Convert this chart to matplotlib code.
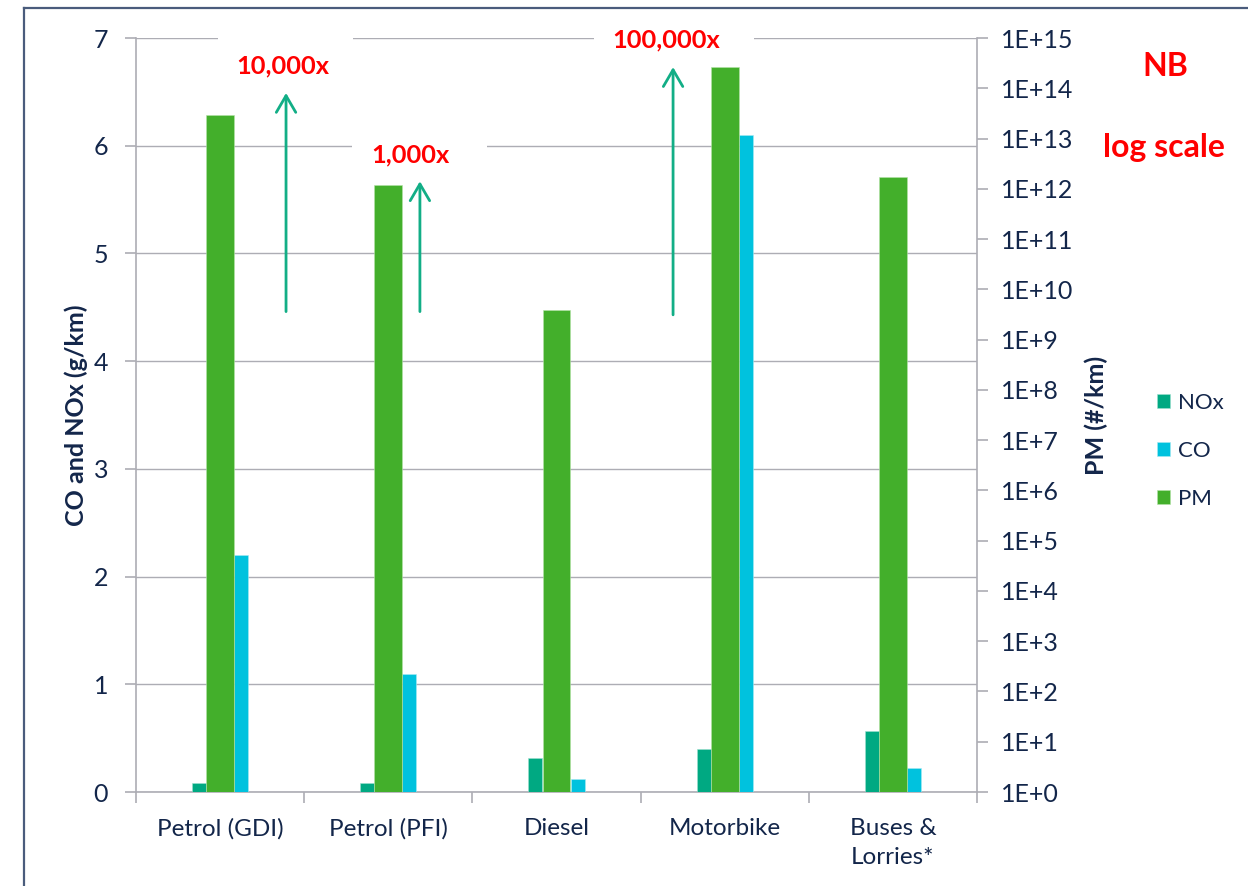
import numpy as np
import matplotlib
matplotlib.use("Agg")
import matplotlib.pyplot as plt
from matplotlib.patches import Rectangle
from matplotlib.lines import Line2D

plt.rcParams['font.family'] = ['Lato', 'DejaVu Sans']

# ---- data -------------------------------------------------------------
categories = ["Petrol (GDI)", "Petrol (PFI)", "Diesel", "Motorbike", "Buses &\nLorries*"]
nox_g_km = [0.08, 0.08, 0.32, 0.40, 0.57]          # left axis
co_g_km = [2.20, 1.10, 0.12, 6.10, 0.22]           # left axis
pm_num_km = [2.9e13, 1.2e12, 3.9e9, 2.7e14, 1.7e12]  # right axis (log)

left_ticks = list(range(0, 8))
right_exponents = list(range(0, 16))

factor_labels = ["10,000x", "1,000x", "100,000x"]

# ---- styling ------------------------------------------------------------
NAVY = "#13264A"
GRID = "#ADADB4"
C_NOX = "#00A982"
C_CO = "#00C2DE"
C_PM = "#43AF2B"
RED = "#FF0000"
ARROW = "#12AE86"

fig = plt.figure(figsize=(12.48, 8.86), dpi=100)
fig.patch.set_facecolor("white")

# slide frame (top and left edges visible)
fig.add_artist(Line2D([24 / 1248, 24 / 1248], [0, 1 - 8 / 886], transform=fig.transFigure,
                      color="#4A5C7C", lw=1.6))
fig.add_artist(Line2D([24 / 1248, 1], [1 - 8 / 886, 1 - 8 / 886], transform=fig.transFigure,
                      color="#4A5C7C", lw=1.6))

ax = fig.add_axes([136 / 1248, 94 / 886, 841 / 1248, 754 / 886])
ax2 = ax.twinx()

x = np.arange(len(categories))
w_small = 0.083
w_pm = 0.166

ax.bar(x - 0.125, nox_g_km, width=w_small, color=C_NOX, zorder=3, label="NOx",
       edgecolor="#9ee0cf", linewidth=0.4)
ax.bar(x + 0.125, co_g_km, width=w_small, color=C_CO, zorder=3, label="CO",
       edgecolor="#a8e9f3", linewidth=0.4)

ax.set_xlim(-0.5, len(categories) - 0.5)
ax.set_ylim(0, 7)
ax.set_yticks(left_ticks)
ax.set_yticklabels([str(t) for t in left_ticks])
ax.yaxis.grid(True, color=GRID, lw=1.0, zorder=0)
ax.set_axisbelow(True)

# category separators on the x axis
ax.set_xticks(np.arange(-0.5, len(categories) + 0.5, 1.0))
ax.set_xticklabels([])
ax.set_xticks(x, minor=True)
ax.set_xticklabels(categories, minor=True, fontsize=17.5, color=NAVY, linespacing=1.45)
ax.tick_params(axis="x", which="major", length=8, width=1.2, color=GRID, direction="out")
ax.tick_params(axis="x", which="minor", length=0, pad=19)
ax.tick_params(axis="y", length=8, width=1.2, color=GRID, direction="out",
               labelsize=18, labelcolor=NAVY, pad=12)

for s in ["top", "right"]:
    ax.spines[s].set_visible(False)
for s in ["left", "bottom"]:
    ax.spines[s].set_color(GRID)
    ax.spines[s].set_linewidth(1.2)

ax.set_ylabel("CO and NOx (g/km)", fontsize=18, fontweight="bold", color=NAVY, labelpad=4)

# PM on log scale
ax2.set_yscale("log")
ax2.bar(x, np.array(pm_num_km) - 1, bottom=1, width=w_pm, color=C_PM, zorder=3,
        label="PM", edgecolor="#b4e3a8", linewidth=0.4)
ax2.set_ylim(1, 1e15)
ax2.set_yticks([10.0 ** e for e in right_exponents])
ax2.set_yticklabels([f"1E+{e}" for e in right_exponents])
ax2.yaxis.set_minor_locator(matplotlib.ticker.NullLocator())
ax2.tick_params(axis="y", length=8, width=1.2, color=GRID, direction="out",
                labelsize=18, labelcolor=NAVY, pad=9)
for s in ["top", "left", "bottom"]:
    ax2.spines[s].set_visible(False)
ax2.spines["right"].set_color(GRID)
ax2.spines["right"].set_linewidth(1.2)
ax2.set_ylabel("PM (#/km)", fontsize=18, fontweight="bold", color=NAVY, labelpad=8)

# white text boxes that interrupt the gridlines
for (x0, x1, y0, y1) in [(-0.012, 0.790, 6.88, 7.12),
                         (0.784, 1.587, 5.88, 6.12),
                         (2.223, 3.174, 6.86, 7.12)]:
    ax2.add_patch(Rectangle((x0, y0), x1 - x0, y1 - y0, transform=ax.transData,
                            facecolor="white", edgecolor="none", zorder=4, clip_on=False))

# factor labels and arrows
text_pos = [(0.374, 6.74), (1.132, 5.915), (2.651, 6.98)]
arrows = [(0.392, 4.46, 6.49), (1.188, 4.46, 5.67), (2.693, 4.43, 6.73)]
for lab, (tx, ty) in zip(factor_labels, text_pos):
    ax2.text(tx, ty, lab, transform=ax.transData, ha="center", va="center",
             fontsize=18.3, fontweight="bold", color=RED, zorder=6, clip_on=False)
for (axx, y0, y1) in arrows:
    ax2.annotate("", xy=(axx, y1), xytext=(axx, y0), xycoords=ax.transData,
                 textcoords=ax.transData, zorder=5,
                 arrowprops=dict(arrowstyle="->,head_length=0.6,head_width=0.35",
                                 color=ARROW, lw=2, mutation_scale=20,
                                 shrinkA=0, shrinkB=0))

# notes on the right
fig.text(1165 / 1248, 1 - 67 / 886, "NB", ha="center", va="center", fontsize=23,
         fontweight="bold", color=RED)
fig.text(1164 / 1248, 1 - 147 / 886, "log scale", ha="center", va="center", fontsize=23,
         fontweight="bold", color=RED)

# legend
h1, l1 = ax.get_legend_handles_labels()
h2, l2 = ax2.get_legend_handles_labels()
leg = fig.legend(h1 + h2, l1 + l2, loc="center left",
                 bbox_to_anchor=(1157 / 1248, 1 - 451 / 886),
                 frameon=False, fontsize=16, handlelength=0.6, handleheight=0.6,
                 handletextpad=0.35, labelspacing=1.27, borderpad=0, borderaxespad=0)
for t in leg.get_texts():
    t.set_color(NAVY)

fig.savefig("out.png", dpi=100, facecolor="white")
